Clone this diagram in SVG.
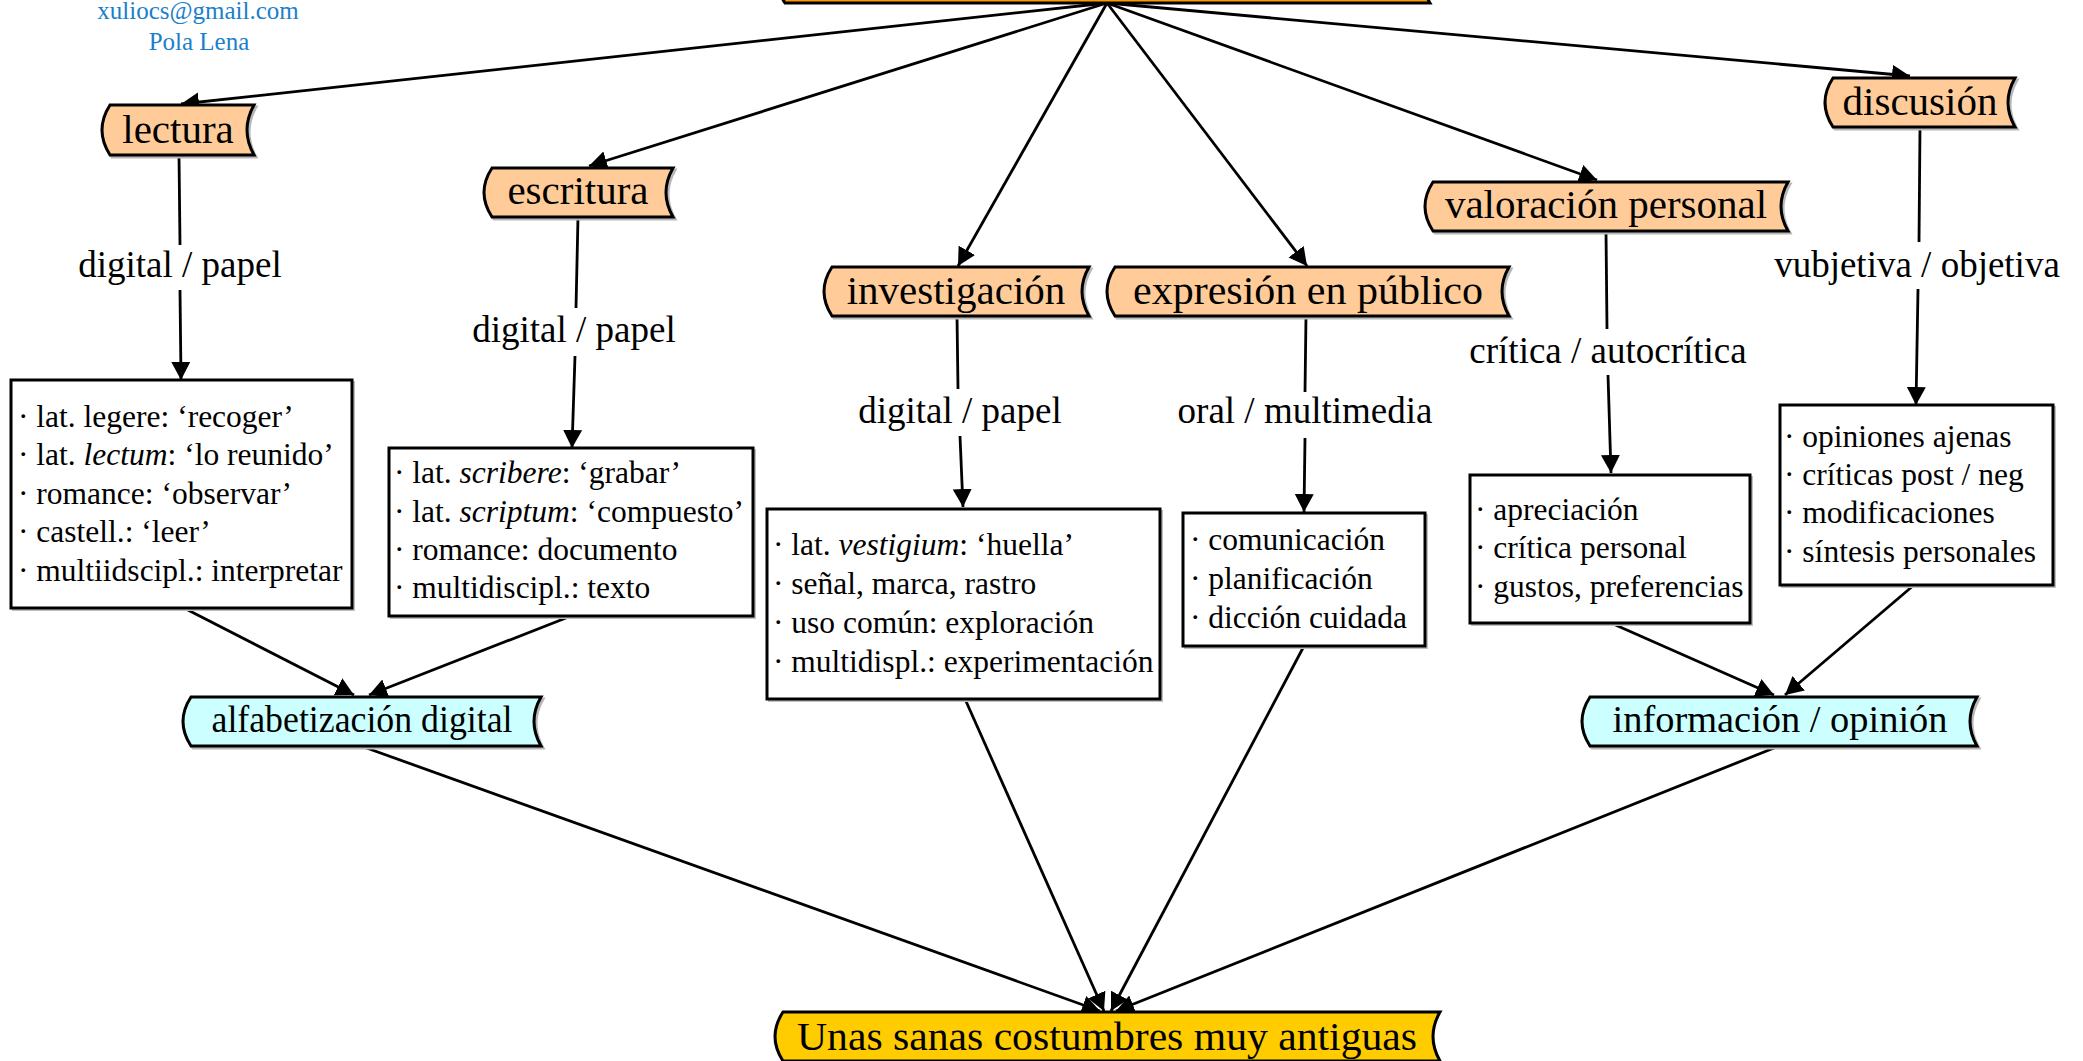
<svg xmlns="http://www.w3.org/2000/svg" width="2083" height="1061" viewBox="0 0 2083 1061">
<style>
text{font-family:"Liberation Serif","Times New Roman",serif;fill:#000}
.nl{font-size:41px;text-anchor:middle}
.cl{font-size:38px;text-anchor:middle}
.el{font-size:37px;text-anchor:middle}
.bt{font-size:31.5px}
.au{font-size:25px;text-anchor:middle;fill:#1B7FCC}
.sh{fill:none;stroke:#b8b8b8;stroke-width:3}
.nd{stroke:#000;stroke-width:3;stroke-linejoin:miter}
.peach{fill:#FFCC99}
.cyan{fill:#CCFFFF}
.gold{fill:#FFCC00}
.org{fill:#FF9900}
.box{fill:#fff;stroke:#000;stroke-width:3}
.bsh{fill:none;stroke:#c0c0c0;stroke-width:2}
.e{fill:none;stroke:#000;stroke-width:2.8}
.ea{fill:none;stroke:#000;stroke-width:2.8;marker-end:url(#ah)}
</style>
<defs>
<marker id="ah" markerUnits="userSpaceOnUse" markerWidth="20" markerHeight="20" refX="18" refY="9.5" orient="auto">
<path d="M0,0 L18,9.5 L0,19 Z" fill="#000"/>
</marker>
</defs>
<rect width="2083" height="1061" fill="#fff"/>

<g id="author">
<text class="au" x="198" y="19">xuliocs@gmail.com</text>
<text class="au" x="199" y="50">Pola Lena</text>
</g>

<g id="connectors">
<line class="ea" x1="1107" y1="3" x2="181" y2="104"/>
<line class="ea" x1="1107" y1="3" x2="589" y2="166"/>
<line class="ea" x1="1107" y1="3" x2="958" y2="266"/>
<line class="ea" x1="1107" y1="3" x2="1307" y2="266"/>
<line class="ea" x1="1107" y1="3" x2="1597" y2="180"/>
<line class="ea" x1="1107" y1="3" x2="1910" y2="76"/>

<line class="e" x1="179" y1="155" x2="180" y2="245"/>
<line class="ea" x1="180" y1="290" x2="181" y2="380"/>
<text class="el" x="180" y="277">digital / papel</text>

<line class="e" x1="578" y1="217" x2="576" y2="308"/>
<line class="ea" x1="575" y1="356" x2="572" y2="448"/>
<text class="el" x="574" y="342">digital / papel</text>

<line class="e" x1="957" y1="316" x2="958" y2="389"/>
<line class="ea" x1="960" y1="436" x2="963" y2="507"/>
<text class="el" x="960" y="423">digital / papel</text>

<line class="e" x1="1306" y1="316" x2="1305" y2="392"/>
<line class="ea" x1="1305" y1="438" x2="1304" y2="512"/>
<text class="el" x="1305" y="423">oral / multimedia</text>

<line class="e" x1="1606" y1="231" x2="1607" y2="329"/>
<line class="ea" x1="1608" y1="375" x2="1611" y2="473"/>
<text class="el" x="1608" y="363">crítica / autocrítica</text>

<line class="e" x1="1920" y1="127" x2="1919" y2="242"/>
<line class="ea" x1="1918" y1="289" x2="1916" y2="405"/>
<text class="el" x="1917" y="277">vubjetiva / objetiva</text>

<line class="ea" x1="184" y1="608" x2="354" y2="695"/>
<line class="ea" x1="571" y1="616" x2="369" y2="695"/>
<line class="ea" x1="1611" y1="623" x2="1774" y2="695"/>
<line class="ea" x1="1914" y1="585" x2="1785" y2="695"/>

<line class="ea" x1="361" y1="746" x2="1100" y2="1011"/>
<line class="ea" x1="965" y1="699" x2="1104" y2="1011"/>
<line class="ea" x1="1304" y1="646" x2="1111" y2="1011"/>
<line class="ea" x1="1779" y1="746" x2="1116" y2="1011"/>
</g>

<g id="node-top">
<path class="nd org" d="M785,-46 H1430 Q1416,-21.5 1430,3 H785 Q769,-21.5 785,-46 Z"/>
</g>

<g id="node-lectura">
<path class="sh" d="M112,107 H256 Q242,132 256,157 H112 Q96,132 112,107 Z"/>
<path class="nd peach" d="M110,105 H254 Q240,130 254,155 H110 Q94,130 110,105 Z"/>
<text class="nl" x="178" y="143">lectura</text>
</g>

<g id="node-escritura">
<path class="sh" d="M494,170 H675 Q661,194.5 675,219 H494 Q478,194.5 494,170 Z"/>
<path class="nd peach" d="M492,168 H673 Q659,192.5 673,217 H492 Q476,192.5 492,168 Z"/>
<text class="nl" x="578" y="204">escritura</text>
</g>

<g id="node-investigacion">
<path class="sh" d="M834,269 H1091 Q1077,293.5 1091,318 H834 Q818,293.5 834,269 Z"/>
<path class="nd peach" d="M832,267 H1089 Q1075,291.5 1089,316 H832 Q816,291.5 832,267 Z"/>
<text class="nl" x="956" y="304">investigación</text>
</g>

<g id="node-expresion">
<path class="sh" d="M1117,269 H1511 Q1497,293.5 1511,318 H1117 Q1101,293.5 1117,269 Z"/>
<path class="nd peach" d="M1115,267 H1509 Q1495,291.5 1509,316 H1115 Q1099,291.5 1115,267 Z"/>
<text class="nl" x="1308" y="304" textLength="350" lengthAdjust="spacingAndGlyphs">expresión en público</text>
</g>

<g id="node-valoracion">
<path class="sh" d="M1435,184 H1790 Q1776,208.5 1790,233 H1435 Q1419,208.5 1435,184 Z"/>
<path class="nd peach" d="M1433,182 H1788 Q1774,206.5 1788,231 H1433 Q1417,206.5 1433,182 Z"/>
<text class="nl" x="1606" y="218">valoración personal</text>
</g>

<g id="node-discusion">
<path class="sh" d="M1835,80 H2017 Q2003,104.5 2017,129 H1835 Q1819,104.5 1835,80 Z"/>
<path class="nd peach" d="M1833,78 H2015 Q2001,102.5 2015,127 H1833 Q1817,102.5 1833,78 Z"/>
<text class="nl" x="1920" y="115">discusión</text>
</g>

<g id="box-lectura">
<rect class="bsh" x="13" y="382" width="341" height="228"/>
<rect class="box" x="11" y="380" width="341" height="228"/>
<text class="bt" x="18" y="427">· lat. legere: ‘recoger’</text>
<text class="bt" x="18" y="465">· lat. <tspan font-style="italic">lectum</tspan>: ‘lo reunido’</text>
<text class="bt" x="18" y="504">· romance: ‘observar’</text>
<text class="bt" x="18" y="542">· castell.: ‘leer’</text>
<text class="bt" x="18" y="581">· multiidscipl.: interpretar</text>
</g>

<g id="box-escritura">
<rect class="bsh" x="391" y="450" width="364" height="168"/>
<rect class="box" x="389" y="448" width="364" height="168"/>
<text class="bt" x="394" y="483">· lat. <tspan font-style="italic">scribere</tspan>: ‘grabar’</text>
<text class="bt" x="394" y="522">· lat. <tspan font-style="italic">scriptum</tspan>: ‘compuesto’</text>
<text class="bt" x="394" y="560">· romance: documento</text>
<text class="bt" x="394" y="598">· multidiscipl.: texto</text>
</g>

<g id="box-investigacion">
<rect class="bsh" x="769" y="511" width="393" height="190"/>
<rect class="box" x="767" y="509" width="393" height="190"/>
<text class="bt" x="773" y="555">· lat. <tspan font-style="italic">vestigium</tspan>: ‘huella’</text>
<text class="bt" x="773" y="594">· señal, marca, rastro</text>
<text class="bt" x="773" y="633">· uso común: exploración</text>
<text class="bt" x="773" y="672">· multidispl.: experimentación</text>
</g>

<g id="box-expresion">
<rect class="bsh" x="1185" y="515" width="242" height="133"/>
<rect class="box" x="1183" y="513" width="242" height="133"/>
<text class="bt" x="1190" y="550">· comunicación</text>
<text class="bt" x="1190" y="589">· planificación</text>
<text class="bt" x="1190" y="628">· dicción cuidada</text>
</g>

<g id="box-valoracion">
<rect class="bsh" x="1472" y="477" width="280" height="148"/>
<rect class="box" x="1470" y="475" width="280" height="148"/>
<text class="bt" x="1475" y="520">· apreciación</text>
<text class="bt" x="1475" y="558">· crítica personal</text>
<text class="bt" x="1475" y="597">· gustos, preferencias</text>
</g>

<g id="box-discusion">
<rect class="bsh" x="1782" y="407" width="273" height="180"/>
<rect class="box" x="1780" y="405" width="273" height="180"/>
<text class="bt" x="1784" y="447">· opiniones ajenas</text>
<text class="bt" x="1784" y="485">· críticas post / neg</text>
<text class="bt" x="1784" y="523">· modificaciones</text>
<text class="bt" x="1784" y="562">· síntesis personales</text>
</g>

<g id="node-alfabetizacion">
<path class="sh" d="M193,699 H543 Q529,723.5 543,748 H193 Q177,723.5 193,699 Z"/>
<path class="nd cyan" d="M191,697 H541 Q527,721.5 541,746 H191 Q175,721.5 191,697 Z"/>
<text class="cl" x="362" y="732" textLength="301" lengthAdjust="spacingAndGlyphs">alfabetización digital</text>
</g>

<g id="node-informacion">
<path class="sh" d="M1592,699 H1979 Q1965,723.5 1979,748 H1592 Q1576,723.5 1592,699 Z"/>
<path class="nd cyan" d="M1590,697 H1977 Q1963,721.5 1977,746 H1590 Q1574,721.5 1590,697 Z"/>
<text class="cl" x="1780" y="732" textLength="335" lengthAdjust="spacingAndGlyphs">información / opinión</text>
</g>

<g id="node-bottom">
<path class="nd gold" d="M783,1012 H1440 Q1426,1036.5 1440,1061 H783 Q767,1036.5 783,1012 Z"/>
<text class="nl" x="1107" y="1050" textLength="620" lengthAdjust="spacingAndGlyphs">Unas sanas costumbres muy antiguas</text>
</g>
</svg>
